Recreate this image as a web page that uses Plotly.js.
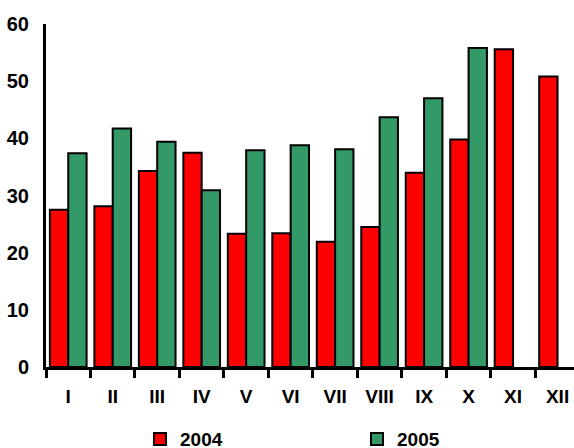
<!DOCTYPE html>
<html>
<head>
<meta charset="utf-8">
<script src="https://cdn.plot.ly/plotly-3.0.1.min.js"></script>
<style>
html,body{margin:0;padding:0;overflow:hidden;background:#fff;}
#chart{width:574px;height:448px;}
</style>
</head>
<body>
<div id="chart"></div>
<script>
const months = ['I','II','III','IV','V','VI','VII','VIII','IX','X','XI','XII'];
const values2004 = [27.5, 28.1, 34.3, 37.5, 23.3, 23.4, 21.9, 24.5, 34.0, 39.8, 55.6, 50.8];
const values2005 = [37.4, 41.7, 39.4, 30.9, 37.9, 38.8, 38.1, 43.7, 47.0, 55.8, null, null];
const seriesNames = ['2004', '2005'];
const yTicks = [0, 10, 20, 30, 40, 50, 60];

const FONT = 'Liberation Sans, Arial, sans-serif';

const traces = [
  {type:'bar', name:seriesNames[0], x:months, y:values2004,
   marker:{color:'#FF0000', line:{color:'#000000', width:2}}},
  {type:'bar', name:seriesNames[1], x:months, y:values2005,
   marker:{color:'#339966', line:{color:'#000000', width:2}}}
];

const layout = {
  width:574, height:448, autosize:false,
  paper_bgcolor:'#ffffff', plot_bgcolor:'#ffffff',
  margin:{l:46, r:0, t:24, b:81, pad:0},
  barmode:'group', bargap:0.175, bargroupgap:0,
  font:{family:FONT, color:'#000', size:19, weight:'bold'},
  xaxis:{
    type:'category', range:[-0.5, 11.37], autorange:false,
    showline:true, linecolor:'#000', linewidth:3,
    ticks:'outside', ticklen:8, tickwidth:3, tickcolor:'#000',
    tickson:'boundaries', showgrid:false, zeroline:false,
    tickfont:{family:FONT, size:19, color:'#000', weight:'bold'},
    ticklabelstandoff:10
  },
  yaxis:{
    range:[0,60], autorange:false,
    tickvals:yTicks, ticktext:yTicks.map(String),
    showline:true, linecolor:'#000', linewidth:3,
    ticks:'', showgrid:false, zeroline:false,
    tickfont:{family:FONT, size:20, color:'#000', weight:'bold'},
    ticklabelstandoff:10
  },
  showlegend:true,
  legend:{
    orientation:'h', xref:'paper', yref:'container',
    x:0.218, xanchor:'left', y:0.02, yanchor:'middle',
    font:{family:FONT, size:19, color:'#000', weight:'bold'},
    entrywidth:172, traceorder:'normal',
    bgcolor:'rgba(0,0,0,0)'
  }
};

Plotly.newPlot('chart', traces, layout, {displayModeBar:false, staticPlot:true});
</script>
</body>
</html>
